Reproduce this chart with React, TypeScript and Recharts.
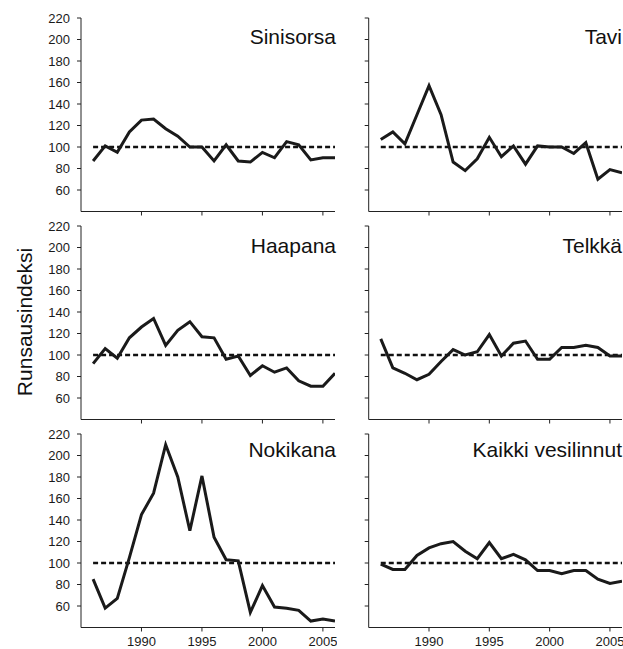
import React from "react";
import { LineChart, Line, XAxis, YAxis, ReferenceLine } from "recharts";

const years = [1986, 1987, 1988, 1989, 1990, 1991, 1992, 1993, 1994, 1995, 1996, 1997, 1998, 1999, 2000, 2001, 2002, 2003, 2004, 2005, 2006];
const sinisorsa = [87, 101, 95, 114, 125, 126, 117, 110, 100, 100, 87, 102, 87, 86, 95, 90, 105, 102, 88, 90, 90];
const tavi = [107, 114, 103, 130, 157, 130, 86, 78, 89, 109, 91, 101, 84, 101, 100, 100, 94, 104, 70, 79, 76];
const haapana = [92, 106, 97, 116, 126, 134, 109, 123, 131, 117, 116, 96, 99, 81, 90, 84, 88, 76, 71, 71, 83];
const telkka = [115, 88, 83, 77, 82, 94, 105, 100, 103, 119, 99, 111, 113, 96, 96, 107, 107, 109, 107, 99, 99];
const nokikana = [85, 58, 67, 105, 145, 165, 210, 180, 130, 181, 124, 103, 102, 54, 79, 59, 58, 56, 46, 48, 46];
const kaikki = [99, 94, 94, 107, 114, 118, 120, 111, 104, 119, 104, 108, 103, 93, 93, 90, 93, 93, 85, 81, 83];

const yTicks = [60, 80, 100, 120, 140, 160, 180, 200, 220];
const xTicks = [1990, 1995, 2000, 2005];
const yDomain = [40, 220];
const xDomain = [1985, 2006];
const baseline = 100;

const titles = ["Sinisorsa", "Tavi", "Haapana", "Telkkä", "Nokikana", "Kaikki vesilinnut"];
const seriesList = [sinisorsa, tavi, haapana, telkka, nokikana, kaikki];
const yLabel = "Runsausindeksi";

const FONT = "'Liberation Sans', Arial, sans-serif";
const rowTops = [18, 225.7, 434];
const titleBaselines = [44, 253, 456.7];
const PLOT_H = 193.5;

function YTick(props: any) {
  const { x, y, payload } = props;
  return (
    <text x={x} y={y} dy={4.6} textAnchor="end" fontSize={13} fontFamily={FONT} fill="#1a1a1a">
      {payload.value}
    </text>
  );
}

function XTick(props: any) {
  const { x, y, payload } = props;
  return (
    <text x={x} y={y} dy={9.5} textAnchor="middle" fontSize={13} fontFamily={FONT} fill="#1a1a1a">
      {payload.value}
    </text>
  );
}

const NoTick = () => <g />;

function Panel({ idx }: { idx: number }) {
  const row = Math.floor(idx / 2);
  const col = idx % 2;
  const bottomRow = row === 2;
  const data = years.map((y, i) => ({ year: y, v: seriesList[idx][i] }));
  const left = col === 0 ? 0 : 300;
  const yAxisW = col === 0 ? 81 : 68.7;
  const plotW = col === 0 ? 254 : 253.3;
  const marginRight = 2;
  const width = yAxisW + plotW + marginRight;
  const xAxisH = bottomRow ? 22 : 8;
  const mTop = 10;
  const height = mTop + PLOT_H + xAxisH;
  const axisColor = "#222";
  return (
    <div style={{ position: "absolute", left, top: rowTops[row] - mTop }}>
      <LineChart width={width} height={height} data={data} margin={{ top: mTop, right: marginRight, bottom: 0, left: 0 }}>
        <XAxis
          dataKey="year"
          type="number"
          domain={xDomain}
          ticks={xTicks}
          interval={0}
          allowDataOverflow
          height={xAxisH}
          tickSize={4}
          tickMargin={5}
          stroke={axisColor}
          tickLine={{ stroke: axisColor }}
          axisLine={{ stroke: axisColor }}
          tick={bottomRow ? <XTick /> : <NoTick />}
        />
        <YAxis
          type="number"
          domain={yDomain}
          ticks={yTicks}
          interval={0}
          allowDataOverflow
          width={yAxisW}
          tickSize={4}
          tickMargin={7}
          stroke={axisColor}
          tickLine={{ stroke: axisColor }}
          axisLine={{ stroke: axisColor }}
          tick={col === 0 ? <YTick /> : <NoTick />}
        />
        <ReferenceLine
          segment={[{ x: years[0], y: baseline }, { x: years[years.length - 1], y: baseline }]}
          stroke="#111"
          strokeWidth={2.6}
          strokeDasharray="5 3"
          ifOverflow="visible"
        />
        <Line
          type="linear"
          dataKey="v"
          stroke="#1a1a1a"
          strokeWidth={3}
          dot={false}
          isAnimationActive={false}
          strokeLinejoin="miter"
        />
      </LineChart>
    </div>
  );
}

function Title({ idx }: { idx: number }) {
  const row = Math.floor(idx / 2);
  const col = idx % 2;
  const right = col === 0 ? 336 : 622;
  return (
    <div
      style={{
        position: "absolute",
        left: 0,
        width: right,
        top: titleBaselines[row] - 17.8,
        textAlign: "right",
        fontFamily: FONT,
        fontSize: 21,
        lineHeight: "21px",
        color: "#111",
        whiteSpace: "nowrap",
      }}
    >
      {titles[idx]}
    </div>
  );
}

export default function App() {
  return (
    <div style={{ position: "absolute", left: 0, top: 0, width: 623, height: 649, background: "#fff", overflow: "hidden" }}>
      {[0, 1, 2, 3, 4, 5].map((i) => (
        <Panel key={i} idx={i} />
      ))}
      {[0, 1, 2, 3, 4, 5].map((i) => (
        <Title key={"t" + i} idx={i} />
      ))}
      <div
        style={{
          position: "absolute",
          left: 24,
          top: 321.7,
          transform: "translate(-50%, -50%) rotate(-90deg)",
          fontFamily: FONT,
          fontSize: 21,
          color: "#111",
          whiteSpace: "nowrap",
          lineHeight: "21px",
        }}
      >
        {yLabel}
      </div>
    </div>
  );
}
